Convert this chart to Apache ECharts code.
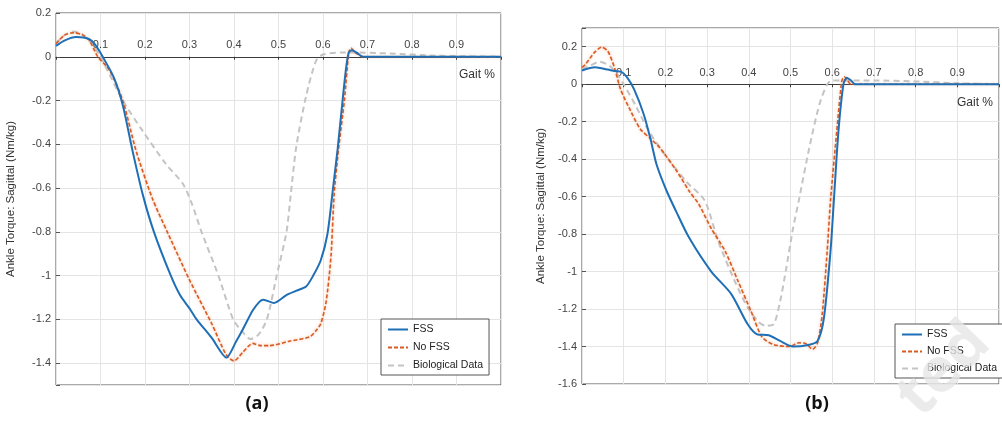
<!DOCTYPE html>
<html>
<head>
<meta charset="utf-8">
<script src="https://cdn.jsdelivr.net/npm/echarts@6/dist/echarts.min.js"></script>
<style>
  html, body { margin: 0; padding: 0; background: #fff; }
  #chart { width: 1002px; height: 422px; }
</style>
</head>
<body>
<div id="chart"></div>
<script>
// Sagittal ankle torque (Nm/kg) over the gait cycle (fraction of stride).

// Panel (a)
const fssAX = [0, 0.02, 0.045, 0.075, 0.09, 0.105, 0.13, 0.15, 0.172, 0.195, 0.22, 0.258, 0.279, 0.3, 0.316, 0.35, 0.383,
  0.405, 0.42, 0.442, 0.457, 0.466, 0.49, 0.517, 0.539, 0.562, 0.578, 0.595, 0.61, 0.622, 0.633, 0.644, 0.652, 0.658,
  0.665, 0.675, 0.69, 0.8, 1.0];
const fssAY = [0.05, 0.075, 0.09, 0.08, 0.05, 0.0, -0.095, -0.22, -0.43, -0.63, -0.8, -1.0, -1.09, -1.15, -1.2, -1.285, -1.375,
  -1.3, -1.245, -1.16, -1.12, -1.11, -1.125, -1.09, -1.07, -1.05, -1.0, -0.93, -0.81, -0.61, -0.42, -0.2, -0.05, 0.02,
  0.03, 0.02, 0.0, 0.0, 0.0];

const noFssAX = [0, 0.02, 0.04, 0.06, 0.075, 0.094, 0.12, 0.15, 0.18, 0.217, 0.25, 0.30, 0.35, 0.382, 0.40, 0.42, 0.442,
  0.46, 0.48, 0.524, 0.57, 0.585, 0.595, 0.607, 0.618, 0.625, 0.635, 0.648, 0.658, 0.663, 0.672, 0.69, 1.0];
const noFssAY = [0.06, 0.1, 0.11, 0.1, 0.075, 0.0, -0.06, -0.2, -0.43, -0.65, -0.8, -1.02, -1.22, -1.36, -1.39, -1.35, -1.31,
  -1.32, -1.32, -1.30, -1.28, -1.25, -1.22, -1.12, -0.91, -0.63, -0.42, -0.2, 0.02, 0.04, 0.02, 0.0, 0.0];

const bioAX = [0, 0.02, 0.04, 0.06, 0.08, 0.1, 0.125, 0.15, 0.195, 0.247, 0.285, 0.305, 0.327, 0.365, 0.398, 0.416, 0.437,
  0.455, 0.474, 0.496, 0.518, 0.528, 0.54, 0.562, 0.584, 0.6, 0.65, 0.75, 0.85, 1.0];
const bioAY = [0.06, 0.1, 0.115, 0.1, 0.06, 0.0, -0.1, -0.2, -0.34, -0.49, -0.58, -0.67, -0.8, -1.0, -1.2, -1.25, -1.29,
  -1.27, -1.2, -1.0, -0.8, -0.62, -0.41, -0.18, -0.02, 0.01, 0.02, 0.015, 0.005, 0.0];

// Panel (b)
const fssBX = [0, 0.031, 0.062, 0.078, 0.093, 0.109, 0.125, 0.148, 0.164, 0.179, 0.203, 0.226, 0.257, 0.31, 0.358, 0.397,
  0.42, 0.448, 0.475, 0.506, 0.545, 0.565, 0.58, 0.596, 0.604, 0.615, 0.627, 0.635, 0.645, 0.655, 1.0];
const fssBY = [0.073, 0.09, 0.078, 0.07, 0.067, 0.034, -0.028, -0.16, -0.29, -0.43, -0.57, -0.68, -0.82, -1.0, -1.12, -1.28,
  -1.335, -1.34, -1.37, -1.40, -1.39, -1.37, -1.25, -0.89, -0.62, -0.25, 0.0, 0.035, 0.02, 0.0, 0.0];

const noFssBX = [0, 0.008, 0.03, 0.047, 0.062, 0.078, 0.093, 0.117, 0.14, 0.164, 0.187, 0.226, 0.257, 0.28, 0.31, 0.343,
  0.374, 0.405, 0.432, 0.46, 0.498, 0.52, 0.537, 0.553, 0.565, 0.576, 0.588, 0.596, 0.611, 0.623, 0.629, 0.637, 0.645, 1.0];
const noFssBY = [0.09, 0.105, 0.17, 0.197, 0.176, 0.087, -0.03, -0.144, -0.24, -0.29, -0.34, -0.46, -0.57, -0.64, -0.77, -0.89,
  -1.05, -1.21, -1.35, -1.39, -1.40, -1.38, -1.385, -1.415, -1.38, -1.23, -0.89, -0.62, -0.25, 0.017, 0.04, 0.02, 0.0, 0.0];

const bioBX = [0, 0.02, 0.042, 0.065, 0.085, 0.1, 0.13, 0.16, 0.2, 0.25, 0.294, 0.327, 0.366, 0.397, 0.424, 0.442, 0.46,
  0.475, 0.49, 0.506, 0.52, 0.545, 0.569, 0.588, 0.6, 0.7, 0.8, 0.9, 1.0];
const bioBY = [0.08, 0.1, 0.12, 0.1, 0.05, 0.0, -0.12, -0.25, -0.38, -0.52, -0.62, -0.84, -1.05, -1.19, -1.27, -1.29, -1.28,
  -1.16, -0.98, -0.77, -0.62, -0.34, -0.11, 0.0, 0.02, 0.02, 0.015, 0.005, 0.0];

// Axis extents
const yRangeA = [-1.5, 0.2];
const yRangeB = [-1.6, 0.3];

const seriesNames = ['FSS', 'No FSS', 'Biological Data'];
const panelLabels = ['(a)', '(b)'];
const yTitle = 'Ankle Torque: Sagittal (Nm/kg)';
const xTitle = 'Gait %';
const watermark = 'ted';

const pairs = (xs, ys) => xs.map((x, i) => [x, ys[i]]);

const FONT = 'Liberation Sans';
const BLUE = '#1f6fb6';
const ORANGE = '#d95a22';
const GREY = '#c4c4c4';

const gridA = { left: 56, top: 13, width: 445, height: 372 };
const gridB = { left: 582, top: 28, width: 428, height: 356 };

const styles = [
  { color: BLUE, width: 2 },
  { color: ORANGE, width: 1.6, type: [4, 2], shadowColor: 'rgba(240,150,100,0.7)', shadowBlur: 3 },
  { color: GREY, width: 2, type: [6, 4] }
];

// The gait axis runs along y = 0; it is placed from the top edge and shifted down to the zero line.
function xAxisFor(gridIndex, grid, yRange) {
  const zeroShift = (yRange[1] / (yRange[1] - yRange[0])) * grid.height;
  return {
    type: 'value', gridIndex, min: 0, max: 1, interval: 0.1,
    position: 'top', offset: -zeroShift,
    name: xTitle, nameLocation: 'end', nameGap: -6,
    nameTextStyle: { align: 'right', verticalAlign: 'top', padding: [12, 0, 0, 0], fontSize: 12, color: '#333', fontFamily: FONT },
    axisLine: { onZero: false, lineStyle: { color: '#3a3a3a', width: 1 } },
    axisTick: { show: true, inside: true, length: 3, lineStyle: { color: '#3a3a3a' } },
    axisLabel: {
      margin: 6, fontSize: 11, color: '#444', fontFamily: FONT,
      formatter: v => (v <= 0.001 || v >= 0.999) ? '' : String(+v.toFixed(1))
    },
    splitLine: { show: true, lineStyle: { color: '#e4e4e4', width: 1 } }
  };
}

function yAxisFor(gridIndex, yRange, extra, hideValue, gap) {
  return Object.assign({
    type: 'value', gridIndex, min: yRange[0], max: yRange[1],
    name: yTitle, nameLocation: 'middle', nameGap: gap,
    nameTextStyle: { fontSize: 11.5, color: '#333', fontFamily: FONT },
    axisLine: { show: false },
    axisTick: { show: true, inside: true, length: 4, lineStyle: { color: '#555' } },
    axisLabel: {
      margin: 5, fontSize: 11, color: '#444', fontFamily: FONT,
      formatter: v => Math.abs(v - hideValue) < 1e-6 ? '' : String(+v.toFixed(1))
    },
    splitLine: { show: true, lineStyle: { color: '#e4e4e4', width: 1 } }
  }, extra);
}

function lineSeries(nameIdx, panel, xs, ys, z) {
  return {
    type: 'line', name: seriesNames[nameIdx], xAxisIndex: panel, yAxisIndex: panel,
    data: pairs(xs, ys), symbol: 'none', smooth: 0.25,
    lineStyle: styles[nameIdx], itemStyle: { color: styles[nameIdx].color },
    z, animation: false
  };
}

function legendFor(left, top, gap) {
  return {
    orient: 'vertical', left, top, data: seriesNames, selectedMode: false,
    itemWidth: 20, itemHeight: 10, itemGap: gap,
    padding: [5, 6, 4, 6], borderColor: '#555', borderWidth: 1, backgroundColor: '#fff',
    itemStyle: { color: 'transparent', borderColor: 'transparent', borderWidth: 0, opacity: 0 },
    textStyle: { fontSize: 10.5, color: '#222', fontFamily: FONT }
  };
}

const chart = echarts.init(document.getElementById('chart'), null, { renderer: 'canvas' });
chart.setOption({
  backgroundColor: '#fff',
  animation: false,
  grid: [
    Object.assign({ show: true, borderColor: '#555', borderWidth: 1, backgroundColor: '#fff' }, gridA),
    Object.assign({ show: true, borderColor: '#555', borderWidth: 1, backgroundColor: '#fff' }, gridB)
  ],
  xAxis: [xAxisFor(0, gridA, yRangeA), xAxisFor(1, gridB, yRangeB)],
  yAxis: [
    yAxisFor(0, yRangeA, { splitNumber: 8 }, yRangeA[0], 39),
    yAxisFor(1, yRangeB, { interval: 0.2 }, yRangeB[1], 35)
  ],
  legend: [legendFor(381, 319, 7), legendFor(895, 324, 6)],
  series: [
    lineSeries(2, 0, bioAX, bioAY, 2),
    lineSeries(1, 0, noFssAX, noFssAY, 3),
    lineSeries(0, 0, fssAX, fssAY, 4),
    lineSeries(2, 1, bioBX, bioBY, 2),
    lineSeries(1, 1, noFssBX, noFssBY, 3),
    lineSeries(0, 1, fssBX, fssBY, 4)
  ],
  graphic: [
    { type: 'text', x: 257, y: 404, z: 100,
      style: { text: panelLabels[0], fontSize: 18, fontWeight: 'bold', fontFamily: 'Open Sans', fill: '#111', align: 'center', verticalAlign: 'middle' } },
    { type: 'text', x: 817, y: 404, z: 100,
      style: { text: panelLabels[1], fontSize: 18, fontWeight: 'bold', fontFamily: 'Open Sans', fill: '#111', align: 'center', verticalAlign: 'middle' } },
    { type: 'text', x: 944, y: 370, rotation: 0.8, z: 200,
      style: { text: watermark, fontSize: 62, fontWeight: 'bold', fontFamily: 'Open Sans', fill: 'rgba(230,230,230,0.8)', align: 'center', verticalAlign: 'middle' } }
  ]
});
</script>
</body>
</html>
